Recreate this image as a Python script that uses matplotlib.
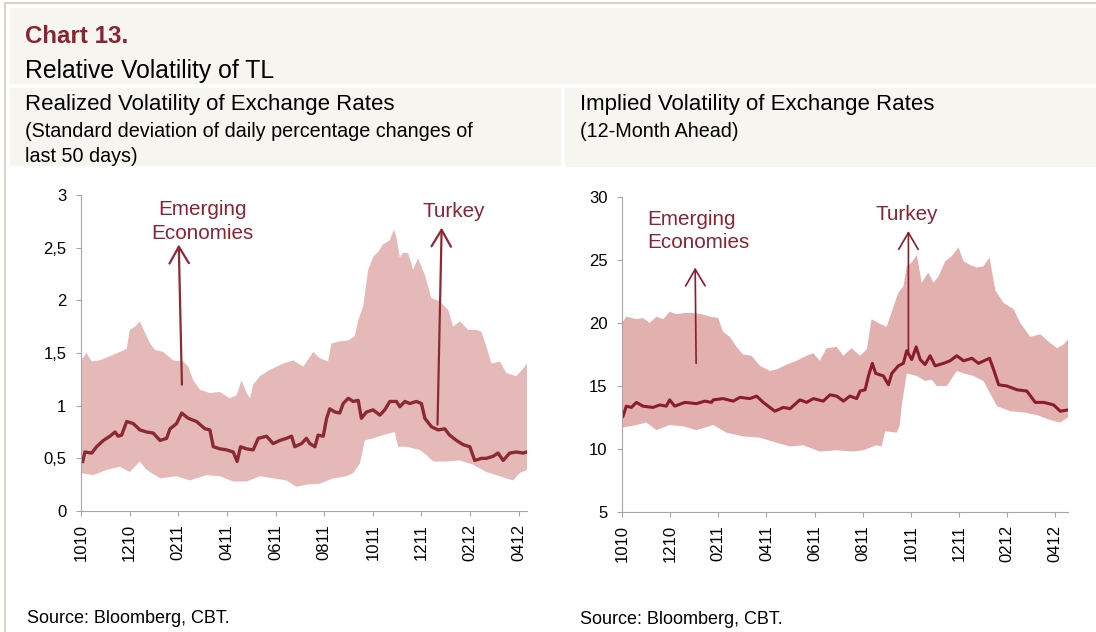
import matplotlib
matplotlib.use("Agg")
import matplotlib.pyplot as plt
from matplotlib.patches import Rectangle
from matplotlib.lines import Line2D

plt.rcParams['font.family'] = ['Liberation Sans', 'DejaVu Sans']

# x values are months since Oct 2010
tick_pos = [0, 2, 4, 6, 8, 10, 12, 14, 16, 18]
tick_lab = ["1010", "1210", "0211", "0411", "0611", "0811", "1011", "1211", "0212", "0412"]

# ---- realized volatility (left) ----
rv_up_x = [0.00, 0.23, 0.44, 0.78, 1.19, 1.60, 1.88, 2.01, 2.22, 2.42, 2.63, 2.84, 3.04, 3.38, 3.79,
           4.21, 4.41, 4.62, 4.89, 5.30, 5.71, 6.12, 6.40, 6.60, 6.81, 6.95, 7.08, 7.36, 7.77, 8.32,
           8.73, 9.14, 9.55, 9.82, 10.16, 10.30, 10.64, 10.99, 11.26, 11.40, 11.60, 11.81, 12.01,
           12.22, 12.42, 12.70, 12.86, 12.97, 13.11, 13.25, 13.45, 13.66, 13.86, 14.14, 14.41, 14.75,
           15.10, 15.30, 15.58, 15.92, 16.26, 16.47, 16.67, 16.88, 17.22, 17.49, 17.90, 18.18, 18.34]
rv_up = [1.43, 1.50, 1.42, 1.43, 1.47, 1.51, 1.54, 1.72, 1.75, 1.80, 1.69, 1.59, 1.53, 1.51, 1.43,
         1.42, 1.37, 1.24, 1.15, 1.12, 1.13, 1.07, 1.10, 1.24, 1.12, 1.07, 1.20, 1.28, 1.34, 1.40,
         1.43, 1.37, 1.51, 1.45, 1.42, 1.59, 1.61, 1.62, 1.66, 1.81, 1.94, 2.29, 2.41,
         2.46, 2.53, 2.57, 2.67, 2.60, 2.41, 2.45, 2.45, 2.29, 2.40, 2.24, 2.02, 1.99,
         1.91, 1.75, 1.80, 1.72, 1.72, 1.70, 1.56, 1.40, 1.42, 1.31, 1.28, 1.35, 1.40]
rv_lo_x = [0.00, 0.51, 1.05, 1.60, 2.01, 2.42, 2.70, 3.25, 3.93, 4.48, 5.16, 5.71, 6.26, 6.81, 7.36,
           7.90, 8.45, 8.86, 9.27, 9.82, 10.37, 10.92, 11.19, 11.47, 11.67, 12.01, 12.42, 12.90,
           13.04, 13.38, 13.93, 14.21, 14.48, 15.03, 15.58, 16.12, 16.67, 17.22, 17.77, 18.04, 18.34]
rv_lo = [0.36, 0.34, 0.39, 0.42, 0.37, 0.47, 0.39, 0.31, 0.33, 0.29, 0.34, 0.33, 0.28, 0.28, 0.33,
         0.31, 0.29, 0.23, 0.25, 0.26, 0.31, 0.33, 0.36, 0.45, 0.67, 0.69, 0.72, 0.75,
         0.61, 0.61, 0.58, 0.53, 0.47, 0.47, 0.48, 0.44, 0.37, 0.33, 0.29, 0.36, 0.39]
rv_tr_x = [0.07, 0.16, 0.44, 0.64, 0.92, 1.19, 1.40, 1.53, 1.67, 1.88, 2.15, 2.42, 2.70, 2.97, 3.25,
           3.52, 3.66, 3.93, 4.14, 4.41, 4.75, 5.10, 5.30, 5.44, 5.71, 5.99, 6.26, 6.42, 6.56, 6.81,
           7.08, 7.29, 7.63, 7.90, 8.18, 8.45, 8.66, 8.79, 9.07, 9.27, 9.41, 9.62, 9.75, 9.96, 10.10,
           10.23, 10.44, 10.64, 10.78, 10.99, 11.19, 11.40, 11.53, 11.74, 12.01, 12.29, 12.49, 12.70,
           12.97, 13.11, 13.32, 13.52, 13.79, 14.00, 14.14, 14.41, 14.68, 14.96, 15.16, 15.44, 15.71,
           15.99, 16.19, 16.47, 16.67, 16.95, 17.15, 17.36, 17.63, 17.90, 18.18, 18.32]
rv_tr = [0.47, 0.56, 0.55, 0.61, 0.67, 0.71, 0.75, 0.71, 0.72, 0.85, 0.83, 0.77, 0.75, 0.74, 0.67,
         0.69, 0.78, 0.83, 0.93, 0.88, 0.85, 0.78, 0.77, 0.61, 0.59, 0.58, 0.56, 0.47, 0.61, 0.59,
         0.58, 0.69, 0.71, 0.64, 0.67, 0.69, 0.71, 0.61, 0.64, 0.69, 0.64, 0.61, 0.72, 0.71, 0.88,
         0.97, 0.94, 0.93, 1.02, 1.07, 1.04, 1.05, 0.88, 0.94, 0.96, 0.91, 0.96, 1.04,
         1.04, 0.99, 1.04, 1.02, 1.04, 1.02, 0.88, 0.80, 0.77, 0.78, 0.72, 0.67, 0.63,
         0.61, 0.48, 0.50, 0.50, 0.52, 0.55, 0.48, 0.55, 0.56, 0.55, 0.56]

# ---- implied volatility (right) ----
iv_up_x = [0.00, 0.18, 0.39, 0.60, 0.87, 1.15, 1.43, 1.71, 1.98, 2.26, 2.61, 2.95, 3.30, 3.65, 3.99,
           4.20, 4.48, 4.76, 5.03, 5.38, 5.73, 6.14, 6.42, 6.84, 7.25, 7.67, 7.95, 8.22, 8.50, 8.92,
           9.20, 9.54, 9.89, 10.17, 10.37, 10.65, 11.00, 11.28, 11.48, 11.69, 11.83, 12.04, 12.25,
           12.45, 12.73, 12.94, 13.15, 13.43, 13.70, 13.98, 14.19, 14.47, 14.74, 15.02, 15.27, 15.51,
           15.85, 16.27, 16.55, 16.96, 17.38, 17.80, 18.08, 18.35, 18.53]
iv_up = [20.0, 20.5, 20.4, 20.3, 20.4, 20.0, 20.5, 20.3, 20.9, 20.7, 20.8, 20.8, 20.7, 20.5, 20.4,
         19.3, 18.9, 18.1, 17.5, 17.4, 16.6, 16.2, 16.3, 16.7, 17.0, 17.4, 17.6, 17.0, 18.0, 18.1,
         17.4, 18.0, 17.4, 17.9, 20.3, 20.0, 19.7, 21.3, 22.4, 22.9, 24.5, 24.8, 25.4,
         23.2, 24.0, 23.2, 23.7, 24.9, 25.3, 26.0, 24.9, 24.6, 24.4, 24.5, 25.2, 22.6,
         21.6, 21.1, 20.0, 18.9, 19.1, 18.4, 18.0, 18.3, 18.7]
iv_lo_x = [0.00, 0.32, 0.60, 1.01, 1.43, 1.98, 2.54, 3.09, 3.79, 4.34, 5.03, 5.73, 6.42, 6.98, 7.53,
           8.22, 8.92, 9.61, 10.03, 10.58, 10.79, 10.93, 11.41, 11.53, 11.62, 11.83, 12.25, 12.59,
           12.87, 13.08, 13.50, 13.91, 14.19, 14.60, 15.02, 15.58, 16.13, 16.69, 17.24, 17.79,
           18.21, 18.53]
iv_lo = [11.7, 11.8, 11.9, 12.1, 11.5, 11.9, 11.8, 11.5, 11.9, 11.3, 11.0, 10.9, 10.5, 10.2, 10.3,
         9.8, 9.9, 9.8, 9.9, 10.3, 10.2, 11.4, 11.3, 11.8, 13.4, 16.0, 15.8, 15.4,
         15.5, 15.0, 15.0, 16.2, 16.0, 15.8, 15.4, 13.4, 13.0, 12.9, 12.7, 12.3,
         12.1, 12.5]
iv_tr_x = [0.04, 0.18, 0.39, 0.60, 0.87, 1.29, 1.57, 1.84, 1.98, 2.19, 2.61, 3.09, 3.44, 3.72, 3.79,
           4.20, 4.62, 4.90, 5.31, 5.59, 5.87, 6.14, 6.35, 6.70, 6.98, 7.39, 7.67, 7.95, 8.36, 8.64,
           8.92, 9.20, 9.47, 9.75, 9.89, 10.10, 10.24, 10.40, 10.54, 10.86, 11.07, 11.21, 11.48,
           11.69, 11.83, 12.04, 12.22, 12.39, 12.59, 12.80, 13.01, 13.36, 13.63, 13.91, 14.19,
           14.54, 14.81, 15.27, 15.44, 15.65, 15.99, 16.41, 16.82, 17.17, 17.52, 17.93, 18.21, 18.53]
iv_tr = [12.6, 13.4, 13.3, 13.7, 13.4, 13.3, 13.5, 13.4, 13.9, 13.4, 13.7, 13.6, 13.8, 13.7, 13.9,
         14.0, 13.8, 14.1, 14.0, 14.2, 13.7, 13.3, 13.0, 13.3, 13.2, 13.9, 13.7, 14.0, 13.8, 14.3,
         14.2, 13.8, 14.2, 14.0, 14.6, 14.7, 15.8, 16.8, 16.0, 15.8, 15.1, 16.0, 16.6,
         16.8, 17.8, 17.1, 18.1, 17.1, 16.7, 17.4, 16.6, 16.8, 17.0, 17.4, 17.0,
         17.2, 16.8, 17.2, 16.3, 15.1, 15.0, 14.7, 14.6, 13.7, 13.7, 13.5, 13.0, 13.1]

W, H = 1096, 632
fig = plt.figure(figsize=(W / 100, H / 100), dpi=100)


def fx(x):
    return x / W


def fy(y):
    return 1 - y / H


panel = '#f6f5f0'
red = '#8b2332'
fig.patches.append(Rectangle((fx(10), fy(83)), fx(W - 10), 75 / H, color=panel, transform=fig.transFigure, zorder=0))
fig.patches.append(Rectangle((fx(10), fy(165)), fx(550), 77 / H, color=panel, transform=fig.transFigure, zorder=0))
fig.patches.append(Rectangle((fx(565), fy(166)), fx(W - 565), 78 / H, color=panel, transform=fig.transFigure, zorder=0))
fig.lines.append(Line2D([fx(5), 1], [fy(3), fy(3)], color='#d5cbb5', lw=1.2, transform=fig.transFigure))
fig.lines.append(Line2D([fx(5), fx(5)], [fy(3), 0], color='#d5cbb5', lw=1.2, transform=fig.transFigure))

fig.text(fx(25), fy(43), "Chart 13.", weight='bold', color=red, size=17.4, va='baseline')
fig.text(fx(25), fy(78), "Relative Volatility of TL", size=17.8, va='baseline')
fig.text(fx(25), fy(110), "Realized Volatility of Exchange Rates", size=16, va='baseline')
fig.text(fx(25), fy(137), "(Standard deviation of daily percentage changes of", size=14.2, va='baseline')
fig.text(fx(25), fy(162), "last 50 days)", size=14.2, va='baseline')
fig.text(fx(580), fy(110), "Implied Volatility of Exchange Rates", size=16, va='baseline')
fig.text(fx(580), fy(137), "(12-Month Ahead)", size=14.2, va='baseline')
fig.text(fx(27), fy(623), "Source: Bloomberg, CBT.", size=13, va='baseline')
fig.text(fx(580), fy(624), "Source: Bloomberg, CBT.", size=13, va='baseline')


def style(ax):
    for s in ['top', 'right']:
        ax.spines[s].set_visible(False)
    for s in ['left', 'bottom']:
        ax.spines[s].set_color('#a6a6a6')
    ax.tick_params(colors='#a6a6a6', labelcolor='black', length=3.5, labelsize=12)
    ax.tick_params(axis='y', pad=7)
    ax.tick_params(axis='x', pad=6)
    ax.set_xticks(tick_pos)
    ax.set_xticklabels(tick_lab, rotation=90)


arrow = dict(arrowstyle='->,head_length=1.2,head_width=0.7', mutation_scale=10, shrinkA=0, shrinkB=0)

# left chart
ax1 = fig.add_axes([fx(81), fy(511), fx(527 - 81), (511 - 195) / H])
ax1.fill(rv_up_x + rv_lo_x[::-1], rv_up + rv_lo[::-1], color='#e6b9b9', lw=0)
ax1.plot(rv_tr_x, rv_tr, color='#8c2a32', lw=2.4)
ax1.set_xlim(0, 18.34)
ax1.set_ylim(0, 3)
ax1.set_yticks([0, 0.5, 1, 1.5, 2, 2.5, 3])
ax1.set_yticklabels(["0", "0,5", "1", "1,5", "2", "2,5", "3"])
style(ax1)
ax1.text(5.01, 2.95, "Emerging\nEconomies", color=red, size=14.9, ha='center', va='top', linespacing=1.3)
ax1.text(15.32, 2.93, "Turkey", color=red, size=14.9, ha='center', va='top')
ax1.annotate("", xy=(4.02, 2.53), xytext=(4.15, 1.20), arrowprops=dict(arrow, color='#8c2a32', lw=1.6))
ax1.annotate("", xy=(14.83, 2.69), xytext=(14.66, 0.82), arrowprops=dict(arrow, color='#8c2a32', lw=1.6))

# right chart
ax2 = fig.add_axes([fx(622), fy(512), fx(1068 - 622), (512 - 197) / H])
ax2.fill(iv_up_x + iv_lo_x[::-1], iv_up + iv_lo[::-1], color='#e3b0b0', lw=0)
ax2.plot(iv_tr_x, iv_tr, color='#8a1c2c', lw=2.2)
ax2.set_xlim(0, 18.53)
ax2.set_ylim(5, 30)
ax2.set_yticks([5, 10, 15, 20, 25, 30])
style(ax2)
ax2.text(1.04, 28.97, "Emerging\nEconomies", color=red, size=14.9, ha='left', va='top', linespacing=1.3)
ax2.text(11.85, 29.37, "Turkey", color=red, size=14.9, ha='center', va='top')
ax2.annotate("", xy=(3.04, 24.4), xytext=(3.08, 16.8), arrowprops=dict(arrow, color='#8a1c2c', lw=1.2))
ax2.annotate("", xy=(11.9, 27.3), xytext=(11.9, 17.7), arrowprops=dict(arrow, color='#8a1c2c', lw=1.2))

plt.savefig("out.png", dpi=100)
